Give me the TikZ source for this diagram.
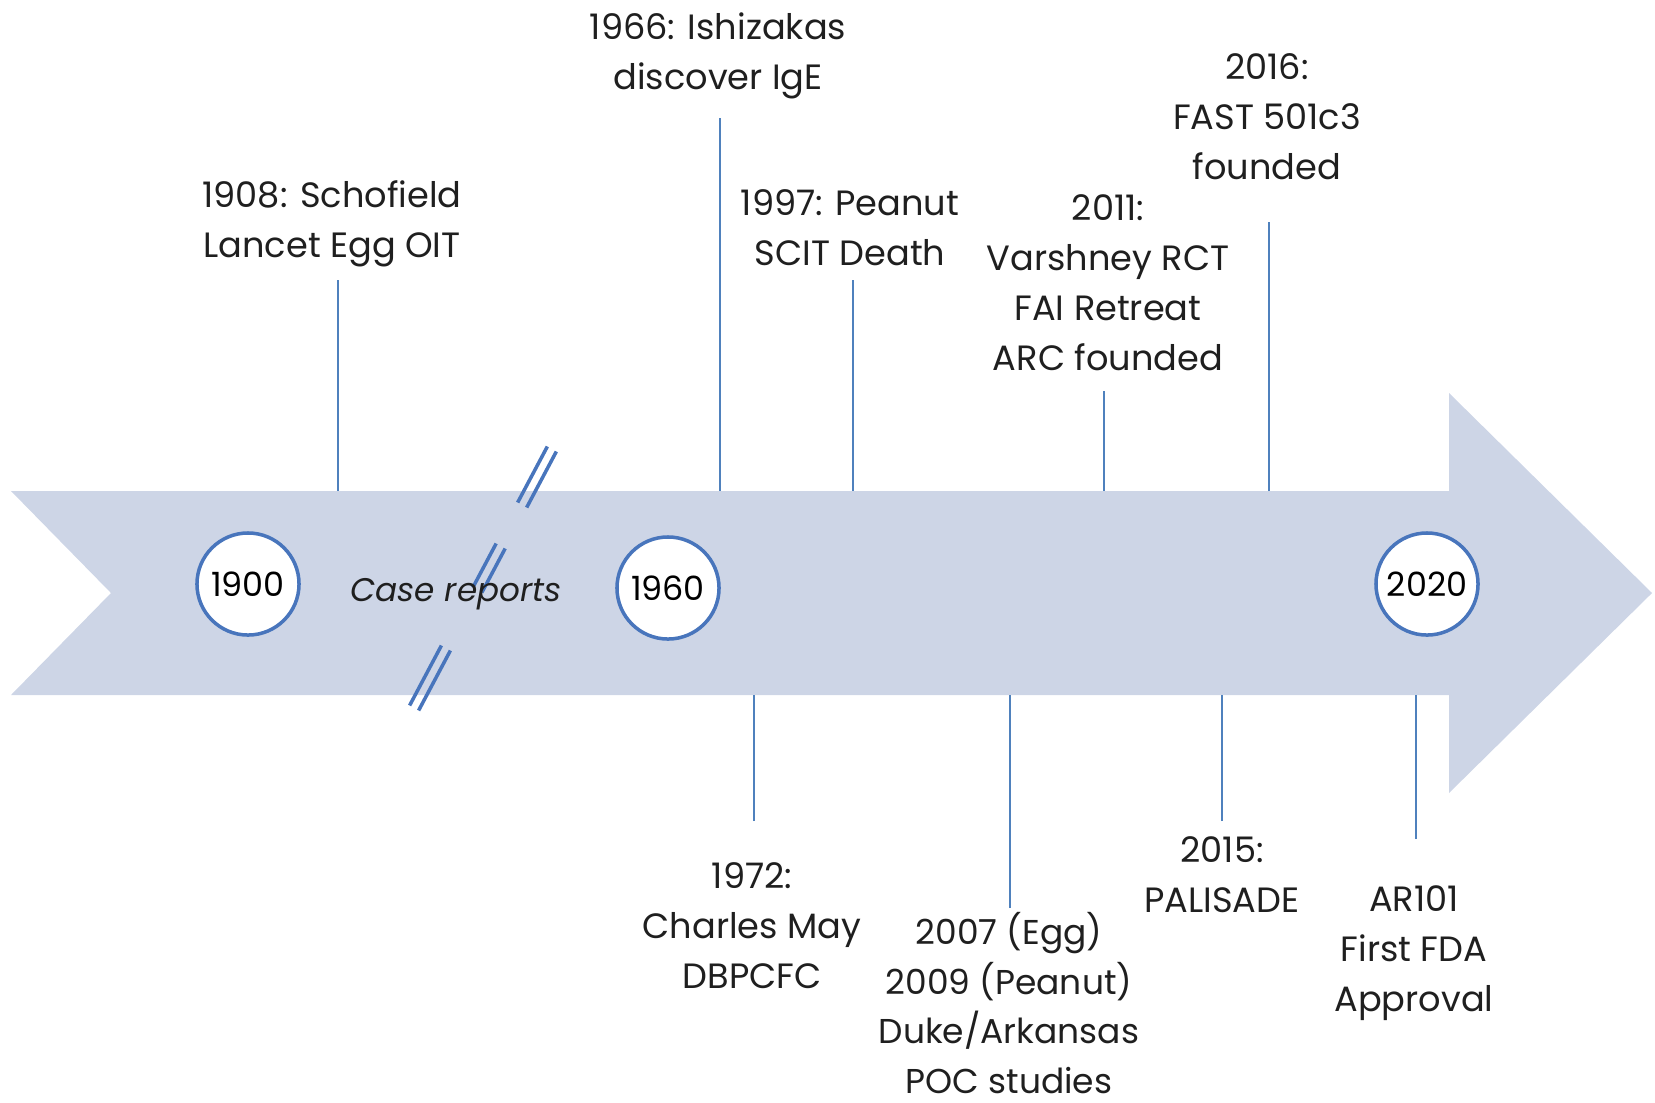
\documentclass[tikz,border=0pt]{standalone}
\usepackage{fontspec}
\setmainfont{Poppins}
\usepackage{xcolor}
\definecolor{band}{RGB}{205,213,230}
\definecolor{ring}{RGB}{72,117,188}
\definecolor{stick}{RGB}{79,129,189}

\begin{document}
\begin{tikzpicture}[x=0.01cm,y=-0.01cm,
  lbl/.style={align=center,font=\fontsize{10}{14.23}\selectfont,text=black!88,inner sep=0pt},
  yr/.style={circle,draw=ring,line width=1pt,fill=white,minimum size=1.02cm,inner sep=0pt,font=\fontsize{9.5}{11}\selectfont},
  tick/.style={stick,line width=0.5pt},
  brk/.style={ring,line width=1pt}]
\useasboundingbox (0,0) rectangle (1655,1102);
% the big arrow
\fill[band] (11,491) -- (1449,491) -- (1449,393) -- (1652,593) -- (1449,793) -- (1449,695) -- (11,695) -- (111,593) -- cycle;
\coordinate (top) at (0,491);
\coordinate (bot) at (0,695);
% break marks
\foreach \cx/\cy/\h in {537/477/28, 489/568/22, 430/678/30}{
  \foreach \o in {-1,1}
    \draw[brk] (\cx+4.5*\o-0.53*\h,\cy+2.5*\o+\h) -- (\cx+4.5*\o+0.53*\h,\cy+2.5*\o-\h);
}
% years
\node[yr] (y1900) at (248,584){1900};
\node[yr] (y1960) at (668,588){1960};
\node[yr] (y2020) at (1427,584){2020};
\node[lbl,font=\fontsize{9.3}{14.23}\selectfont\itshape] (cases) at (456,594){Case reports};
% above
\node[lbl] (e1908) at (332,224){1908: Schofield\\Lancet Egg OIT};
\coordinate (s1908) at (338,280);
\draw[tick] (s1908) -- (s1908 |- top);
\node[lbl] (e1966) at (718,56){1966: Ishizakas\\discover IgE};
\coordinate (s1966) at (720,118);
\draw[tick] (s1966) -- (s1966 |- top);
\node[lbl] (e1997) at (850,228){1997: Peanut\\SCIT Death};
\coordinate (s1997) at (853,280);
\draw[tick] (s1997) -- (s1997 |- top);
\node[lbl] (e2011) at (1108,283){2011:\\Varshney RCT\\FAI Retreat\\ARC founded};
\coordinate (s2011) at (1104,391);
\draw[tick] (s2011) -- (s2011 |- top);
\node[lbl] (e2016) at (1267,117){2016:\\FAST 501c3\\founded};
\coordinate (s2016) at (1269,222);
\draw[tick] (s2016) -- (s2016 |- top);
% below
\node[lbl] (e1972) at (752,926){1972:\\Charles May\\DBPCFC};
\coordinate (s1972) at (754,821);
\draw[tick] (s1972) -- (s1972 |- bot);
\node[lbl,font=\fontsize{9.8}{14.1}\selectfont] (e2007) at (1009,1003){2007 (Egg)\\2009 (Peanut)\\Duke/Arkansas\\POC studies};
\coordinate (s2007) at (1010,908);
\draw[tick] (s2007) -- (s2007 |- bot);
\node[lbl] (e2015) at (1222,875){2015:\\PALISADE};
\coordinate (s2015) at (1222,821);
\draw[tick] (s2015) -- (s2015 |- bot);
\node[lbl] (e2020) at (1414,953){AR101\\First FDA\\Approval};
\coordinate (s2020) at (1416,839);
\draw[tick] (s2020) -- (s2020 |- bot);
\end{tikzpicture}
\end{document}
